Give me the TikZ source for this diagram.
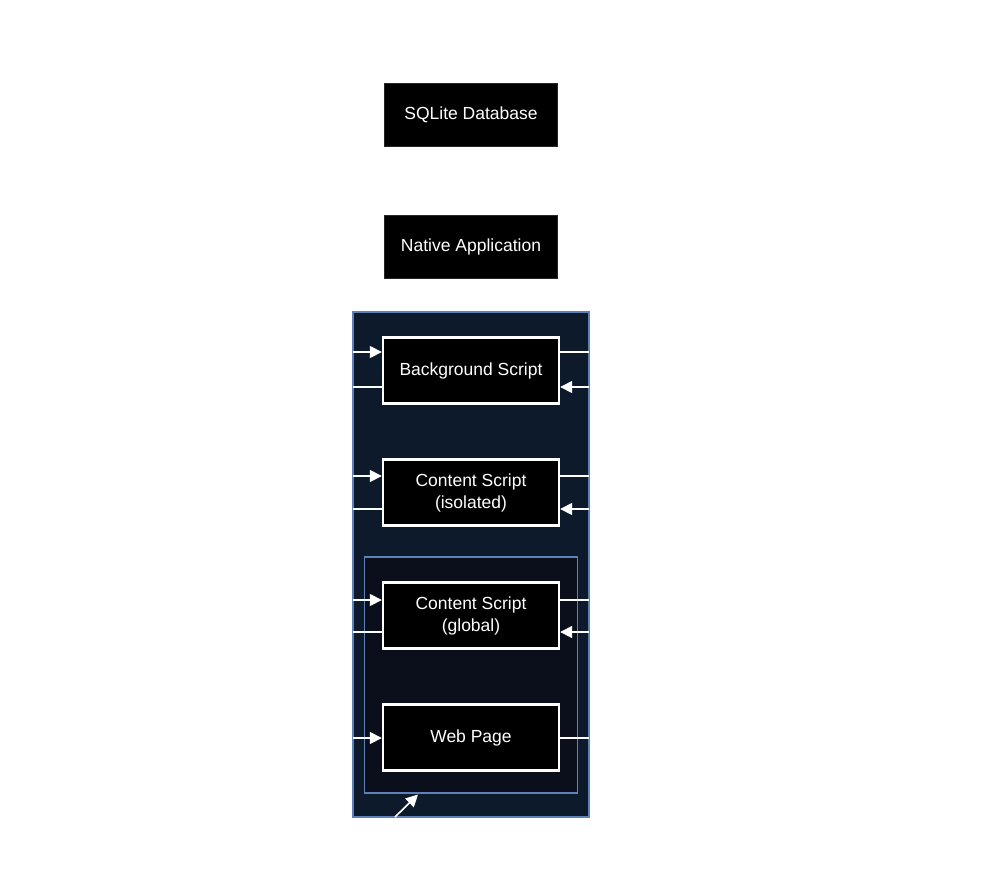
\documentclass[tikz,border=0pt]{standalone}
\usepackage{fontspec}
\setmainfont{Liberation Sans}
\usetikzlibrary{arrows.meta}
\definecolor{outerfill}{HTML}{0D1A2C}
\definecolor{innerfill}{HTML}{0A0F1B}
\definecolor{frame}{HTML}{5E82B8}
\tikzset{
  darkbox/.style={fill=black, draw=black!85, line width=0.8pt, text=white, align=center,
    minimum width=173pt, minimum height=63pt, inner sep=0pt,
    font=\fontsize{17.5}{22}\selectfont},
  scriptbox/.style={fill=black, draw=white, line width=2.4pt, text=white, align=center,
    minimum width=176pt, minimum height=66pt, inner sep=0pt,
    font=\fontsize{17.5}{22}\selectfont},
  container/.style={draw=frame, line width=1.2pt, inner sep=0pt},
  conn/.style={draw=white, line width=1.6pt},
  arr/.style={conn, -{Triangle[length=12pt,width=12pt]}},
}
\begin{document}
\begin{tikzpicture}[x=1pt,y=-1pt]
\useasboundingbox (0,0) rectangle (1000,891);
\fill[white] (0,0) rectangle (1000,891);

\node[darkbox] (sql) at (471,114.5) {SQLite Database};
\node[darkbox] (native) at (471,246.5) {Native Application};

\node[container, fill=outerfill, minimum width=236pt, minimum height=505pt] (outer) at (471,564.5) {};
\node[container, fill=innerfill, minimum width=213pt, minimum height=236pt] (inner) at (471,675) {};

\node[scriptbox] (bg) at (471,370.5) {Background Script};
\node[scriptbox] (csi) at (471,492.5) {Content Script\\(isolated)};
\node[scriptbox] (csg) at (471,615.5) {Content Script\\(global)};
\node[scriptbox] (web) at (471,737.5) {Web Page};

% left side free ends
\coordinate (bgLi) at (353,352);
\coordinate (bgLo) at (353,387);
\coordinate (csiLi) at (353,476);
\coordinate (csiLo) at (353,509);
\coordinate (csgLi) at (353,600);
\coordinate (csgLo) at (353,632);
\coordinate (webLi) at (353,738);
% right side free ends
\coordinate (bgRo) at (589,352);
\coordinate (bgRi) at (589,387);
\coordinate (csiRo) at (589,476);
\coordinate (csiRi) at (589,509);
\coordinate (csgRo) at (589,600);
\coordinate (csgRi) at (589,632);
\coordinate (webRo) at (589,738);

\draw[arr] (bgLi) -- (bgLi -| bg.west);
\draw[conn] (bgLo -| bg.west) -- (bgLo);
\draw[conn] (bgRo -| bg.east) -- (bgRo);
\draw[arr] (bgRi) -- (bgRi -| bg.east);

\draw[arr] (csiLi) -- (csiLi -| csi.west);
\draw[conn] (csiLo -| csi.west) -- (csiLo);
\draw[conn] (csiRo -| csi.east) -- (csiRo);
\draw[arr] (csiRi) -- (csiRi -| csi.east);

\draw[arr] (csgLi) -- (csgLi -| csg.west);
\draw[conn] (csgLo -| csg.west) -- (csgLo);
\draw[conn] (csgRo -| csg.east) -- (csgRo);
\draw[arr] (csgRi) -- (csgRi -| csg.east);

\draw[arr] (webLi) -- (webLi -| web.west);
\draw[conn] (webRo -| web.east) -- (webRo);

\coordinate (diag) at (395,817);
\draw[arr] (diag) -- (418,794.5);
\end{tikzpicture}
\end{document}
